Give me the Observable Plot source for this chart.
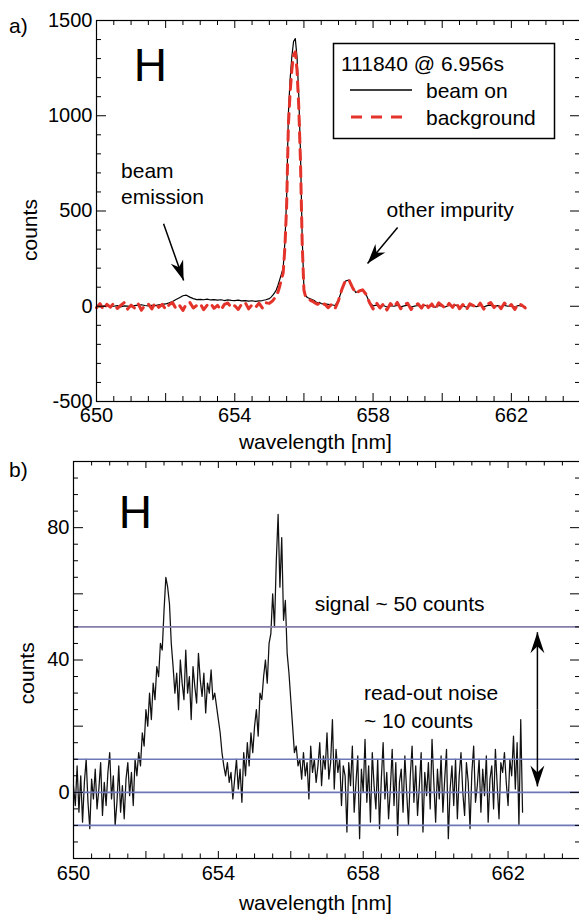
<!DOCTYPE html>
<html>
<head>
<meta charset="utf-8">
<script src="https://cdn.jsdelivr.net/npm/d3@7"></script>
<script src="https://cdn.jsdelivr.net/npm/@observablehq/plot@0.6"></script>
<style>
html, body { margin: 0; padding: 0; background: #fff; overflow: hidden; }
#wrap { position: relative; width: 579px; height: 917px; overflow: hidden; background: #fff; }
#top { position: absolute; left: 0; top: 0; }
#bot { position: absolute; left: 0; top: 455px; }
#overlay { position: absolute; left: 0; top: 0; }
</style>
</head>
<body>
<div id="wrap"><div id="top"></div><div id="bot"></div></div>
<script>
// ---------------- data: panel a) ----------------
const topWavelength = [
  650.0,650.1,650.2,650.3,650.4,650.5,650.6,650.7,650.8,650.9,
  651.0,651.1,651.2,651.3,651.4,651.5,651.6,651.7,651.8,651.9,
  652.0,652.1,652.2,652.3,652.4,652.5,652.6,652.7,652.8,652.9,
  653.0,653.1,653.2,653.3,653.4,653.5,653.6,653.7,653.8,653.9,
  654.0,654.1,654.2,654.3,654.4,654.5,654.6,654.7,654.8,654.9,
  655.00,655.05,655.10,655.15,655.20,655.25,655.30,655.35,655.40,655.45,
  655.50,655.55,655.60,655.65,655.70,655.75,655.80,655.85,655.90,655.95,
  656.00,656.05,656.10,656.15,656.20,656.25,656.30,656.35,656.40,656.45,
  656.50,
  656.6,656.7,656.8,656.9,657.0,657.1,657.2,657.3,657.4,657.5,
  657.6,657.7,657.8,657.9,658.0,658.1,658.2,658.3,658.4,658.5,
  658.6,658.7,658.8,658.9,659.0,659.1,659.2,659.3,659.4,659.5,
  659.6,659.7,659.8,659.9,660.0,660.1,660.2,660.3,660.4,660.5,
  660.6,660.7,660.8,660.9,661.0,661.1,661.2,661.3,661.4,661.5,
  661.6,661.7,661.8,661.9,662.0,662.1,662.2,662.3,662.4
];
const beamOn = [
  2,-3,1,4,-2,0,3,-4,2,1,
  -2,3,6,8,4,2,5,3,7,10,
  12,18,25,35,45,55,58,48,40,35,
  36,34,37,33,35,32,34,30,33,31,
  30,32,28,30,27,29,26,28,30,34,
  40,48,58,70,85,110,140,170,200,340,
  570,1010,1190,1310,1390,1405,1310,1110,810,360,
  95,55,46,42,38,34,30,22,18,20,
  14,
  12,10,8,4,32,88,132,138,102,72,
  80,84,60,20,2,6,-2,4,-4,3,
  0,5,-3,2,6,-4,1,4,-2,5,
  -1,3,-5,4,1,-3,5,0,6,-4,
  2,-5,4,1,-2,5,-4,3,6,-1,
  3,-3,5,0,2,-4,4,1,-2
];
const background = [
  -8,14,-18,10,-5,16,-12,4,19,-15,
  6,-10,15,-21,5,12,-14,18,-6,10,
  -16,8,19,-12,5,-22,13,20,-9,4,
  14,-18,6,16,-11,5,-20,10,17,-8,
  3,-17,12,20,-14,8,-6,16,-10,18,
  15,22,30,42,55,75,105,140,175,310,
  530,950,1120,1240,1320,1335,1240,1050,760,330,
  85,48,40,36,30,26,20,14,10,18,
  6,
  12,-8,10,-12,30,90,135,140,100,68,
  80,86,62,18,-14,17,-9,12,-20,14,
  -5,20,-13,9,16,-17,6,13,-10,19,
  -7,12,-16,18,3,-12,15,-6,21,-13,
  9,-19,13,4,-9,16,-15,10,20,-7,
  12,-13,17,-4,9,-17,14,6,-9
];

// ---------------- data: panel b) ----------------
const botWavelength = [
  650.00,650.05,650.10,650.15,650.20,650.25,650.30,650.35,650.40,650.45,
  650.50,650.55,650.60,650.65,650.70,650.75,650.80,650.85,650.90,650.95,
  651.00,651.05,651.10,651.15,651.20,651.25,651.30,651.35,651.40,651.45,
  651.50,651.55,651.60,651.65,651.70,651.75,651.80,651.85,651.90,651.95,
  652.00,652.05,652.10,652.15,652.20,652.25,652.30,652.35,652.40,652.45,
  652.50,652.55,652.60,652.65,652.70,652.75,652.80,652.85,652.90,652.95,
  653.00,653.05,653.10,653.15,653.20,653.25,653.30,653.35,653.40,653.45,
  653.50,653.55,653.60,653.65,653.70,653.75,653.80,653.85,653.90,653.95,
  654.00,654.05,654.10,654.15,654.20,654.25,654.30,654.35,654.40,654.45,
  654.50,654.55,654.60,654.65,654.70,654.75,654.80,654.85,654.90,654.95,
  655.00,655.05,655.10,655.15,655.20,655.25,655.30,655.35,655.40,655.45,
  655.50,655.55,655.60,655.65,655.70,655.75,655.80,655.85,655.90,655.95,
  656.00,656.05,656.10,656.15,656.20,656.25,656.30,656.35,656.40,656.45,
  656.50,656.55,656.60,656.65,656.70,656.75,656.80,656.85,656.90,656.95,
  657.00,657.05,657.10,657.15,657.20,657.25,657.30,657.35,657.40,657.45,
  657.50,657.55,657.60,657.65,657.70,657.75,657.80,657.85,657.90,657.95,
  658.00,658.05,658.10,658.15,658.20,658.25,658.30,658.35,658.40,658.45,
  658.50,658.55,658.60,658.65,658.70,658.75,658.80,658.85,658.90,658.95,
  659.00,659.05,659.10,659.15,659.20,659.25,659.30,659.35,659.40,659.45,
  659.50,659.55,659.60,659.65,659.70,659.75,659.80,659.85,659.90,659.95,
  660.00,660.05,660.10,660.15,660.20,660.25,660.30,660.35,660.40,660.45,
  660.50,660.55,660.60,660.65,660.70,660.75,660.80,660.85,660.90,660.95,
  661.00,661.05,661.10,661.15,661.20,661.25,661.30,661.35,661.40,661.45,
  661.50,661.55,661.60,661.65,661.70,661.75,661.80,661.85,661.90,661.95,
  662.00,662.05,662.10,662.15,662.20,662.25,662.30,662.35,662.40
];
const beamSignal = [
  2,-4,8,-6,5,-9,3,10,-3,-11,
  4,-2,7,-5,1,9,-7,3,-4,6,
  12,-2,5,-10,-3,8,-6,2,-8,4,
  9,-1,6,-4,10,5,12,8,18,14,
  25,20,30,22,33,28,38,35,45,43,
  55,65,62,57,45,38,30,36,25,40,
  33,28,43,30,35,22,38,32,27,42,
  34,29,36,24,33,30,37,28,30,26,
  22,18,12,8,5,9,3,6,-2,4,
  10,1,7,-3,12,5,15,8,18,12,
  20,25,17,30,28,35,40,33,45,48,
  60,50,70,84,62,77,52,58,42,36,
  28,20,12,14,8,10,4,12,5,9,
  -2,14,6,10,3,8,15,2,11,7,
  18,4,9,22,1,13,6,10,-4,8,
  5,-12,9,2,14,-6,3,11,-14,7,
  0,16,-3,8,-9,12,2,-5,10,-11,
  4,15,-2,6,-8,1,13,-4,9,-13,
  3,7,-6,11,0,-10,5,14,-3,8,
  -7,2,12,-12,6,-1,9,-5,16,3,
  -9,7,-2,11,-6,4,13,-14,1,8,
  -4,10,-8,5,12,0,-7,9,3,-11,
  6,14,-3,2,10,-6,7,-1,11,-9,
  4,8,-5,13,2,-8,9,6,12,3,
  -4,10,5,17,1,15,-10,22,-6
];
const signalLevel = [50];
const noiseLevels = [10, 0, -10];

// ---------------- ticks & labels ----------------
const xLabels = [650, 654, 658, 662];
const xMajorTicks = [650, 652, 654, 656, 658, 660, 662, 664];
const xMinorTicks = [650.5,651,651.5,652.5,653,653.5,654.5,655,655.5,656.5,657,657.5,658.5,659,659.5,660.5,661,661.5,662.5,663,663.5];
const topYLabels = [-500, 0, 500, 1000, 1500];
const topYMinor = [-400,-300,-200,-100,100,200,300,400,600,700,800,900,1100,1200,1300,1400];
const botYLabels = [0, 40, 80];
const botYMajor = [-20, 0, 20, 40, 60, 80, 100];
const botYMinor = [-15,-10,-5,5,10,15,25,30,35,45,50,55,65,70,75,85,90,95];
const xTitle = "wavelength [nm]";
const yTitle = "counts";
const panelLabels = ["a)", "b)"];
const elementLabel = "H";
const legendTitle = "111840 @ 6.956s";
const seriesNames = ["beam on", "background"];

// annotations (data coordinates)
const topNotes = [
  {x: 650.71, y: 539, text: "beam\nemission"},
  {x: 658.39, y: 466, text: "other impurity"}
];
const topArrows = [
  {x1: 651.94, y1: 433, x2: 652.52, y2: 135},
  {x1: 658.71, y1: 413, x2: 657.84, y2: 224}
];
const botNotes = [
  {x: 656.66, y: 54.7, text: "signal ~ 50 counts"},
  {x: 658.02, y: 19.3, text: "read-out noise\n~ 10 counts"}
];
const botArrows = [
  {x1: 662.81, y1: 25, x2: 662.81, y2: 48.4},
  {x1: 662.81, y1: 25, x2: 662.81, y2: 1.8}
];

// ---------------- helpers ----------------
const RED = "#e4332a";
const FONT = "'Liberation Sans', Arial, Helvetica, sans-serif";
const fmt = d => String(d);

function arrows(data, head) {
  return Plot.link(data, {
    x1: "x1", y1: "y1", x2: "x2", y2: "y2",
    stroke: "black", strokeWidth: 1.5,
    render(index, scales, values, dimensions, context, next) {
      const g = next(index, scales, values, dimensions, context);
      const {x1: X1, y1: Y1, x2: X2, y2: Y2} = values;
      const ns = "http://www.w3.org/2000/svg";
      for (const i of index) {
        const dx = X2[i] - X1[i], dy = Y2[i] - Y1[i], L = Math.hypot(dx, dy);
        const ux = dx / L, uy = dy / L, px = -uy, py = ux;
        const tx = X2[i], ty = Y2[i];
        const bx = tx - ux * head.len, by = ty - uy * head.len;
        const nx = tx - ux * (head.len - head.notch), ny = ty - uy * (head.len - head.notch);
        const p = document.createElementNS(ns, "path");
        p.setAttribute("d", `M${tx},${ty}L${bx + px * head.half},${by + py * head.half}L${nx},${ny}L${bx - px * head.half},${by - py * head.half}Z`);
        p.setAttribute("fill", "black");
        p.setAttribute("stroke", "none");
        g.appendChild(p);
      }
      return g;
    }
  });
}

function frameTicks(plotW, plotH, xMaj, xMin, yMaj, yMin, lx, sx, ly, sy) {
  return [
    Plot.tickX(xMaj, {x: d => d, insetTop: plotH - lx, stroke: "black"}),
    Plot.tickX(xMin, {x: d => d, insetTop: plotH - sx, stroke: "black"}),
    Plot.tickX(xMaj, {x: d => d, insetBottom: plotH - lx, stroke: "black"}),
    Plot.tickX(xMin, {x: d => d, insetBottom: plotH - sx, stroke: "black"}),
    Plot.tickY(yMaj, {y: d => d, insetRight: plotW - ly, stroke: "black"}),
    Plot.tickY(yMin, {y: d => d, insetRight: plotW - sy, stroke: "black"}),
    Plot.tickY(yMaj, {y: d => d, insetLeft: plotW - ly, stroke: "black"}),
    Plot.tickY(yMin, {y: d => d, insetLeft: plotW - sy, stroke: "black"})
  ];
}

const style = {fontFamily: FONT, fontSize: "20px", color: "black", background: "transparent", maxWidth: "none", overflow: "visible"};

// ---------------- panel a) ----------------
const topRows = topWavelength.map((w, i) => ({w, on: beamOn[i], bg: background[i]}));
const topW = 580, topH = 455, topML = 96, topMT = 20, topMB = 54;
const topPlot = Plot.plot({
  width: topW, height: topH,
  marginLeft: topML, marginRight: 0, marginTop: topMT, marginBottom: topMB,
  style,
  x: {domain: [650, 664]},
  y: {domain: [-500, 1500]},
  marks: [
    Plot.line(topRows, {x: "w", y: "on", stroke: "black", strokeWidth: 1.2}),
    Plot.line(topRows, {x: "w", y: "bg", stroke: RED, strokeWidth: 3, strokeDasharray: "10,7"}),
    ...frameTicks(topW - topML, topH - topMT - topMB, xMajorTicks, xMinorTicks, topYLabels, topYMinor, 8, 5, 10, 5),
    Plot.frame({stroke: "black", strokeWidth: 1.2}),
    Plot.axisX(xLabels, {tickSize: 0, tickPadding: 6, label: null, tickFormat: fmt}),
    Plot.axisY(topYLabels, {tickSize: 0, tickPadding: 4, label: null, tickFormat: fmt}),
    Plot.text([elementLabel], {x: () => 651.56, y: () => 1185, text: d => d, fontSize: 46, textAnchor: "middle", lineAnchor: "bottom"}),
    Plot.text(topNotes, {x: "x", y: "y", text: "text", fontSize: 21, textAnchor: "start", lineAnchor: "bottom", lineHeight: 1.24}),
    arrows(topArrows, {len: 20, half: 6.5, notch: 6}),
    Plot.text([xTitle], {x: () => 656.33, frameAnchor: "bottom", dy: 47, text: d => d, fontSize: 21, lineAnchor: "bottom"}),
    Plot.text([yTitle], {y: () => 400, frameAnchor: "left", dx: -60, text: d => d, fontSize: 21, rotate: -90, textAnchor: "middle", lineAnchor: "bottom"})
  ]
});
document.getElementById("top").appendChild(topPlot);

// ---------------- panel b) ----------------
const botRows = botWavelength.map((w, i) => ({w, c: beamSignal[i]}));
const botW = 580, botH = 462, botML = 73, botMT = 6, botMB = 59;
const botPlot = Plot.plot({
  width: botW, height: botH,
  marginLeft: botML, marginRight: 0, marginTop: botMT, marginBottom: botMB,
  style,
  x: {domain: [650, 664]},
  y: {domain: [-20, 100]},
  marks: [
    Plot.line(botRows, {x: "w", y: "c", stroke: "#111", strokeWidth: 1.25}),
    Plot.ruleY(signalLevel, {y: d => d, stroke: "#837fa9", strokeWidth: 1.6}),
    Plot.ruleY(noiseLevels, {y: d => d, stroke: "#6e78b6", strokeWidth: 1.6}),
    ...frameTicks(botW - botML, botH - botMT - botMB, xMajorTicks, xMinorTicks, botYMajor, botYMinor, 7, 4.5, 10, 5),
    Plot.frame({stroke: "black", strokeWidth: 1.2}),
    Plot.axisX(xLabels, {tickSize: 0, tickPadding: 7, label: null, tickFormat: fmt}),
    Plot.axisY(botYLabels, {tickSize: 0, tickPadding: 4, label: null, tickFormat: fmt}),
    Plot.text([elementLabel], {x: () => 651.71, y: () => 79.8, text: d => d, fontSize: 46, textAnchor: "middle", lineAnchor: "bottom"}),
    Plot.text(botNotes, {x: "x", y: "y", text: "text", fontSize: 21, textAnchor: "start", lineAnchor: "bottom", lineHeight: 1.38}),
    arrows(botArrows, {len: 21, half: 7, notch: 7}),
    Plot.text([xTitle], {x: () => 656.68, frameAnchor: "bottom", dy: 51, text: d => d, fontSize: 21, lineAnchor: "bottom"}),
    Plot.text([yTitle], {y: () => 36, frameAnchor: "left", dx: -40, text: d => d, fontSize: 21, rotate: -90, textAnchor: "middle", lineAnchor: "bottom"})
  ]
});
document.getElementById("bot").appendChild(botPlot);

// ---------------- overlay: panel letters + legend ----------------
const ns = "http://www.w3.org/2000/svg";
const ov = document.createElementNS(ns, "svg");
ov.setAttribute("id", "overlay");
ov.setAttribute("width", 579);
ov.setAttribute("height", 917);
ov.setAttribute("font-family", FONT);
function el(tag, attrs, text) {
  const e = document.createElementNS(ns, tag);
  for (const k in attrs) e.setAttribute(k, attrs[k]);
  if (text != null) e.textContent = text;
  ov.appendChild(e);
  return e;
}
el("text", {x: 9, y: 33, "font-size": 21}, panelLabels[0]);
el("text", {x: 9, y: 477, "font-size": 21}, panelLabels[1]);
el("rect", {x: 333.5, y: 43.5, width: 221, height: 95, fill: "white", stroke: "black", "stroke-width": 1.5});
el("text", {x: 341, y: 71, "font-size": 21}, legendTitle);
el("line", {x1: 350, y1: 90, x2: 412, y2: 90, stroke: "black", "stroke-width": 1.3});
el("text", {x: 426, y: 98, "font-size": 21}, seriesNames[0]);
el("line", {x1: 351, y1: 117, x2: 402, y2: 117, stroke: RED, "stroke-width": 3, "stroke-dasharray": "11,9"});
el("text", {x: 426, y: 125, "font-size": 21}, seriesNames[1]);
document.getElementById("wrap").appendChild(ov);
</script>
</body>
</html>
